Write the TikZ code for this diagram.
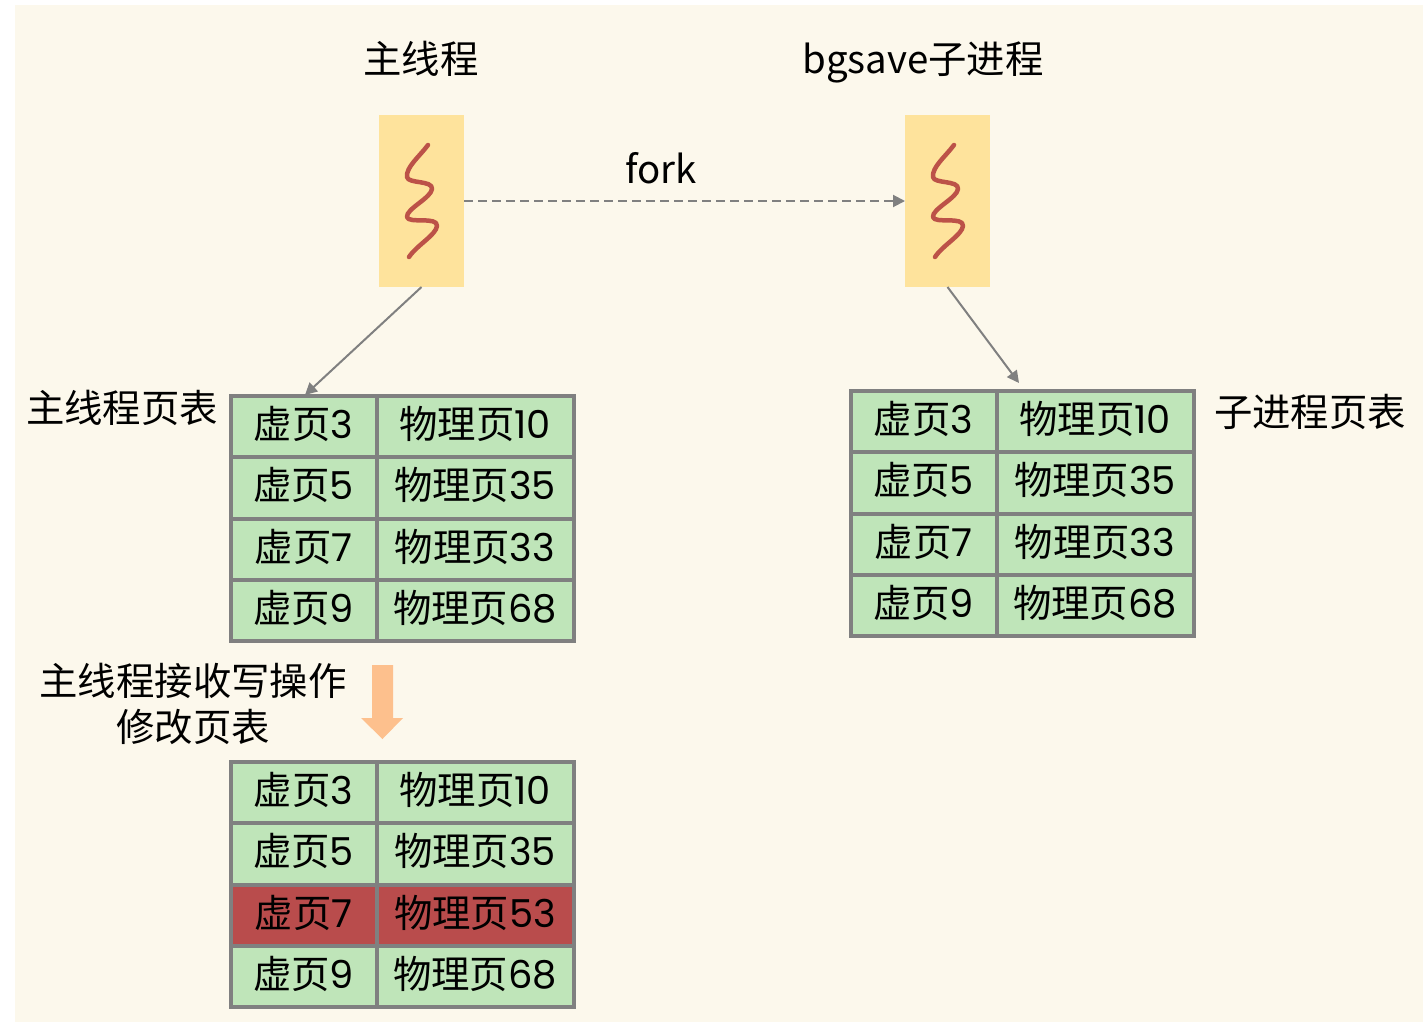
\documentclass[tikz,border=0pt]{standalone}
\usepackage{fontspec}
\setmainfont{Noto Sans CJK SC}
\newfontfamily\lat{Poppins}
\usetikzlibrary{arrows.meta}
\definecolor{bgc}{HTML}{FCF8EC}
\definecolor{yel}{HTML}{FEE39C}
\definecolor{grn}{HTML}{BFE5B9}
\definecolor{redc}{HTML}{B94C4C}
\definecolor{org}{HTML}{FDC08D}
\definecolor{gry}{HTML}{808080}
\definecolor{sq}{HTML}{BC5248}
\tikzset{
  x=1pt,y=-1pt,
  label text/.style={font=\fontsize{38.4}{38}\selectfont,text=black,inner sep=0pt,text height=33pt,text depth=5pt},
  thread box/.style={fill=yel,minimum width=85pt,minimum height=172pt,inner sep=0pt,outer sep=0pt},
  cell/.style={draw=gry,line width=4pt,fill=grn,inner sep=0pt,outer sep=0pt,minimum height=61.25pt,font=\fontsize{38.4}{38}\selectfont,text=black,text height=31pt,text depth=7pt},
  vcell/.style={cell,minimum width=146pt},
  pcell/.style={cell,minimum width=197pt},
  hot/.style={fill=redc},
  link/.style={draw=gry,line width=2pt,-{Triangle[length=12pt,width=12pt]}},
  squiggle/.style={draw=sq,line width=4.5pt,line cap=round,line join=round},
}
% #1 name prefix, #2 left x, #3 top y, #4 style of row 3, #5 page of row 3
\newcommand{\pagetable}[5]{
  \node[vcell,anchor=north west] (#1v3) at (#2,#3) {虚页{\lat 3}};
  \node[pcell,anchor=north west] (#1p3) at (#1v3.north east) {物理页{\lat 10}};
  \node[vcell,anchor=north] (#1v5) at (#1v3.south) {虚页{\lat 5}};
  \node[pcell,anchor=north] (#1p5) at (#1p3.south) {物理页{\lat 35}};
  \node[vcell,anchor=north,#4] (#1v7) at (#1v5.south) {虚页{\lat 7}};
  \node[pcell,anchor=north,#4] (#1p7) at (#1p5.south) {物理页{\lat #5}};
  \node[vcell,anchor=north] (#1v9) at (#1v7.south) {虚页{\lat 9}};
  \node[pcell,anchor=north] (#1p9) at (#1p7.south) {物理页{\lat 68}};
}
\newcommand{\threadline}[1]{
  \draw[squiggle,shift={(#1)}] (7,-56)
    .. controls (-2,-44) and (-15,-34) .. (-14,-24)
    .. controls (-13,-17) and (12,-21) .. (11,-12)
    .. controls (10,-3) and (-15,8) .. (-14,16)
    .. controls (-13,23) and (17,15) .. (16,25)
    .. controls (15,34) and (-4,44) .. (-12,56);
}
\begin{document}
\begin{tikzpicture}
\useasboundingbox (0,0) rectangle (1423,1022);
\fill[white] (0,0) rectangle (1423,1022);
\fill[bgc] (15,5) rectangle (1423,1022);

\node[label text] (t1) at (421,60) {主线程};
\node[label text] (t2) at (923,60) {bgsave子进程};
\node[label text] (forklabel) at (661,169) {fork};
\node[thread box] (main) at (421.5,201) {};
\node[thread box] (child) at (947.5,201) {};
\threadline{421,201}
\threadline{947,201}

\pagetable{a}{230.5}{396}{}{33}
\pagetable{b}{850.5}{391}{}{33}
\pagetable{c}{230.5}{762}{hot}{53}

\node[label text] (l1) at (122,408) {主线程页表};
\node[label text] (l2) at (1310,412) {子进程页表};
\node[label text] (l3) at (193,681) {主线程接收写操作};
\node[label text] (l4) at (193,727) {修改页表};

\coordinate (aTop) at (305,395);
\coordinate (bTop) at (1019,383);
\draw[link,dash pattern=on 9pt off 5pt] (main.east) -- (child.west);
\draw[link] (main.south) -- (aTop);
\draw[link] (child.south) -- (bTop);

\fill[org] (372,665) -- (393,665) -- (393,718) -- (403,718) -- (382.5,739) -- (361,718) -- (372,718) -- cycle;
\end{tikzpicture}
\end{document}
